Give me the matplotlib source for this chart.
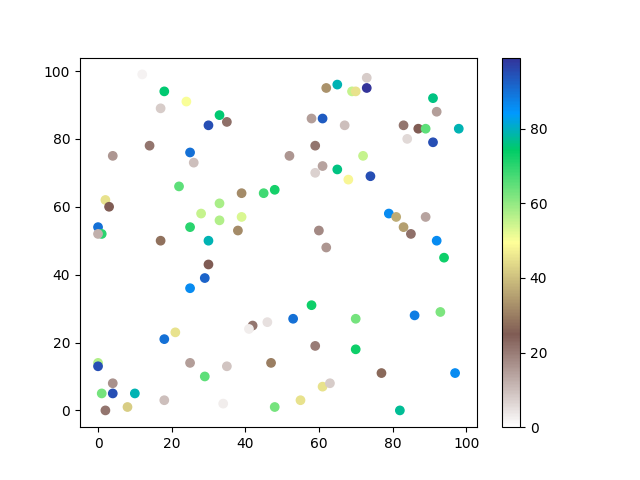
import matplotlib
matplotlib.use("Agg")
import matplotlib.pyplot as plt

# scatter data: x, y and colour value
x = [12, 18, 24, 17, 33, 35, 30, 4, 14, 25, 26, 22, 2, 3, 0, 1, 0, 17, 25, 28,
     33, 33, 39, 39, 38, 30, 45, 48, 73, 65, 62, 69, 70, 73, 91, 92, 58, 61, 67, 83,
     87, 89, 98, 84, 91, 59, 52, 72, 61, 59, 65, 68, 74, 79, 81, 89, 83, 85, 92, 60,
     62, 94, 58, 46, 53, 70, 86, 93, 59, 70, 47, 49, 77, 97, 61, 63, 55, 48, 82, 30,
     29, 25, 21, 18, 42, 41, 0, 0, 25, 35, 29, 4, 1, 4, 10, 8, 2, 18, 34]
y = [99, 94, 91, 89, 87, 85, 84, 75, 78, 76, 73, 66, 62, 60, 54, 52, 52, 50, 54, 58,
     61, 56, 64, 57, 53, 50, 64, 65, 98, 96, 95, 94, 94, 95, 92, 88, 86, 86, 84, 84,
     83, 83, 83, 80, 79, 78, 75, 75, 72, 70, 71, 68, 69, 58, 57, 57, 54, 52, 50, 53,
     48, 45, 31, 26, 27, 27, 28, 29, 19, 18, 14, 10, 11, 11, 7, 8, 3, 1, 0, 43,
     39, 36, 23, 21, 25, 24, 14, 13, 14, 13, 10, 8, 5, 5, 5, 1, 0, 3, 2]
c = [2, 75, 50, 8, 75, 22, 95, 16, 21, 90, 10, 65, 45, 25, 90, 70, 12, 28, 70, 55,
     58, 57, 32, 53, 32, 79, 68, 72, 8, 79, 33, 55, 45, 99, 76, 15, 15, 93, 10, 21,
     25, 65, 79, 6, 95, 21, 16, 55, 14, 7, 76, 48, 95, 86, 37, 14, 35, 22, 86, 18,
     16, 73, 73, 5, 90, 63, 88, 62, 20, 73, 30, 0, 27, 86, 45, 8, 45, 63, 77, 25,
     92, 86, 45, 90, 21, 3, 57, 95, 15, 9, 65, 17, 63, 95, 79, 42, 21, 10, 3]

fig, ax = plt.subplots(figsize=(6.4, 4.8), dpi=100)
sc = ax.scatter(x, y, c=c, cmap="terrain_r")
fig.colorbar(sc, ax=ax)

fig.savefig("out.png")
